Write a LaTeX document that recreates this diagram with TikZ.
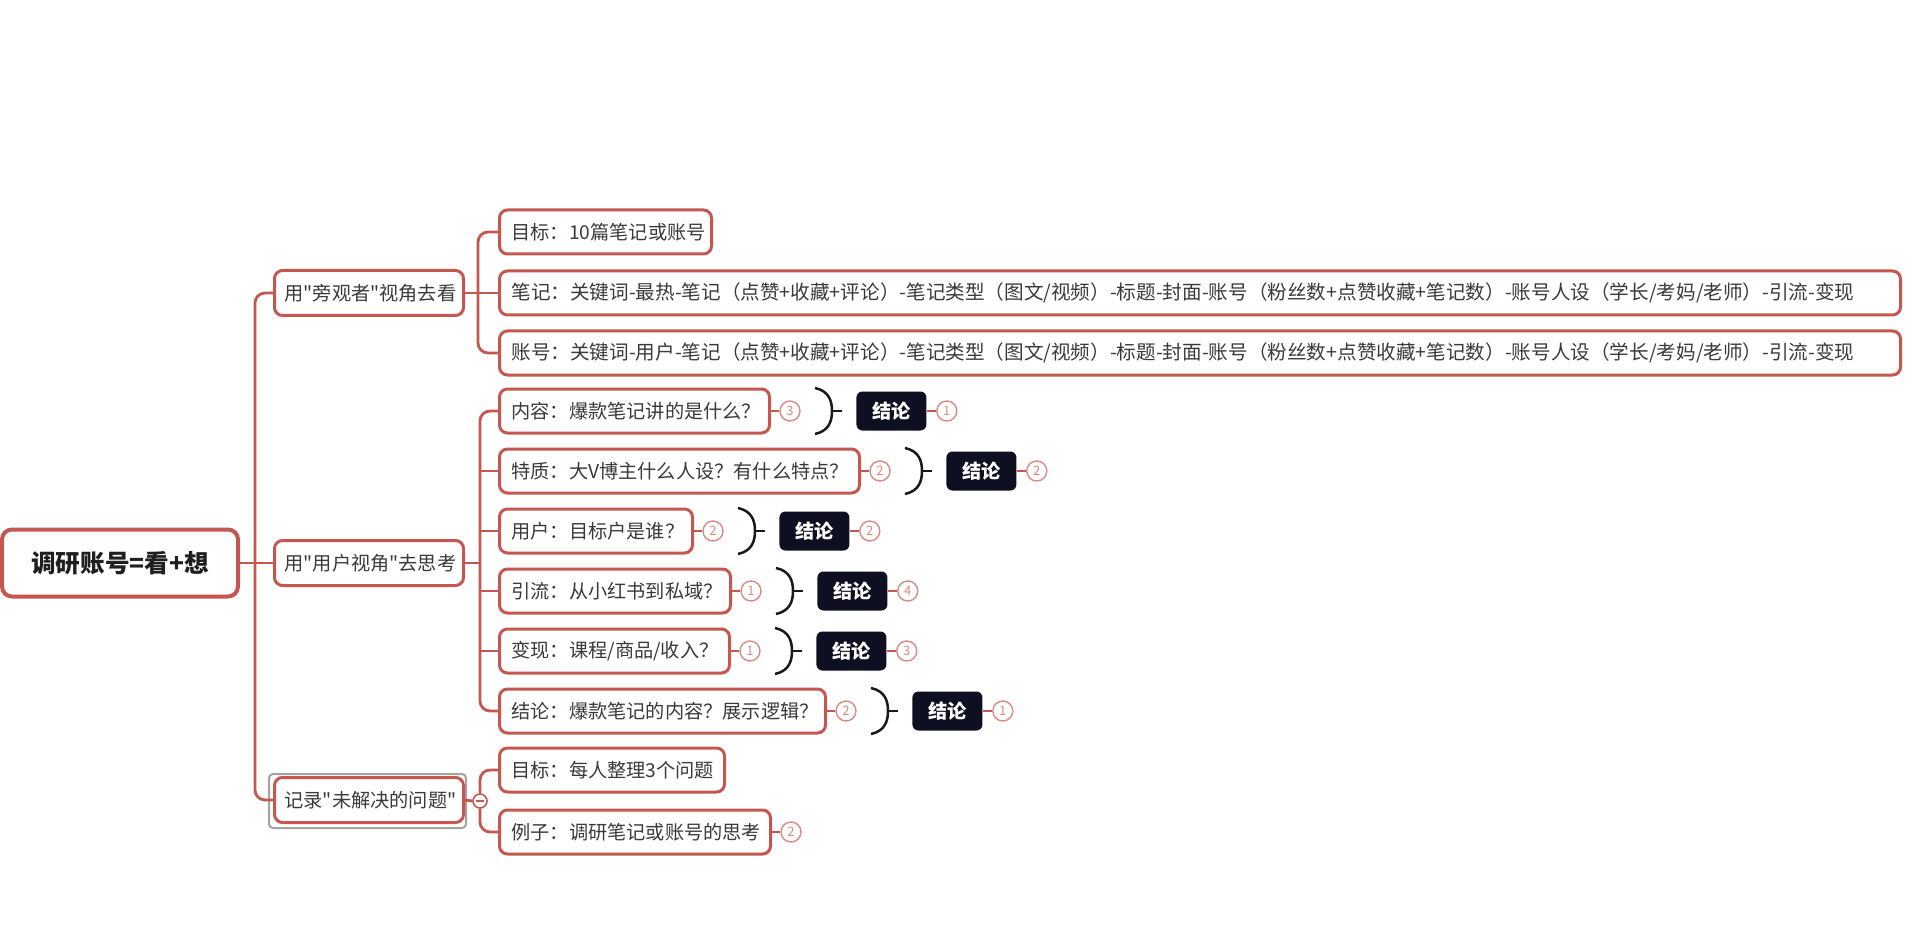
\documentclass[tikz,border=0pt]{standalone}
\usepackage{fontspec}
\setmainfont{Noto Sans CJK SC}[Ligatures=TeXOff]
\usetikzlibrary{calc}
\definecolor{mred}{HTML}{C4574F}
\definecolor{lred}{HTML}{DA8A84}
\definecolor{txt}{HTML}{3A3A3A}
\definecolor{navy}{HTML}{0E1022}
\definecolor{gframe}{HTML}{A3A3A3}
\tikzset{
  link/.style={draw=mred, line width=1.4pt, rounded corners=5pt},
  rootbox/.style={draw=mred, line width=2pt, rounded corners=5pt, fill=white,
    minimum width=118pt, minimum height=33.5pt, text=black!88,
    font=\fontsize{12.3}{14}\selectfont\bfseries},
  lonebox/.style={draw=mred, line width=1.5pt, rounded corners=4pt, fill=white,
    text width=84.5pt, inner xsep=5pt, align=center, minimum height=22.5pt,
    text=txt, font=\fontsize{9.6}{11}\selectfont, anchor=west},
  qbox/.style={draw=mred, line width=1.5pt, rounded corners=4pt, fill=white,
    inner xsep=6pt, align=left, minimum height=22pt, text=txt,
    font=\fontsize{9.6}{11}\selectfont, anchor=west},
  longbox/.style={qbox, font=\fontsize{9.8}{12}\selectfont},
  concl/.style={fill=navy, rounded corners=3pt, minimum width=35pt,
    minimum height=19.5pt, inner sep=0pt, text=white,
    font=\fontsize{9.6}{11}\selectfont\bfseries, anchor=west},
  num/.style={circle, draw=lred, line width=0.7pt, fill=white, minimum size=10pt,
    inner sep=0pt, text=lred, font=\fontsize{6.5}{7}\selectfont},
  bracket/.style={draw=black!90, line width=1.25pt},
  minus/.style={circle, draw=mred, line width=0.8pt, fill=white, minimum size=7pt,
    inner sep=0pt, path picture={\draw[mred, line width=0.6pt]
      ($(path picture bounding box.west)+(1.5pt,0)$) -- ($(path picture bounding box.east)+(-1.5pt,0)$);}},
}
\newcommand{\brk}[1]{%
  \draw[bracket] ($(#1)+(0,-23)$) .. controls ($(#1)+(14,-20)$) and ($(#1)+(17,-10)$) .. ($(#1)+(17,0)$)
    .. controls ($(#1)+(17,10)$) and ($(#1)+(14,20)$) .. ($(#1)+(0,23)$);
  \draw[bracket] ($(#1)+(17,0)$) -- ($(#1)+(27,0)$);}
\begin{document}
\begin{tikzpicture}[x=0.5pt, y=-0.5pt]
\fill[white] (0,0) rectangle (1920,930);
\useasboundingbox (0,0) rectangle (1920,930);

% root and level 1
\node[rootbox] (root) at (120,563) {调研账号=看+想};
\node[lonebox] (B1) at (273,293) {\mbox{用"旁观者"视角去看}};
\node[lonebox] (B2) at (273,563) {\mbox{用"用户视角"去思考}};
\draw[gframe, line width=1pt, rounded corners=2pt] (269,774) rectangle (466,828);
\node[lonebox] (B3) at (273,800) {\mbox{记录"未解决的问题"}};

\coordinate (T) at (255,563);
\draw[link] (B1.west) -| (T) |- (B3.west);
\draw[link] (root.east) -- (B2.west);

% group 1
\node[qbox, text width=94pt] (c11) at (498,232) {\mbox{目标：10篇笔记或账号}};
\node[longbox, text width=688.5pt] (c12) at (498,293) {\mbox{笔记：关键词-最热-笔记（点赞+收藏+评论）-笔记类型（图文/视频）-标题-封面-账号（粉丝数+点赞收藏+笔记数）-账号人设（学长/考妈/老师）-引流-变现}};
\node[longbox, text width=688.5pt] (c13) at (498,353) {\mbox{账号：关键词-用户-笔记（点赞+收藏+评论）-笔记类型（图文/视频）-标题-封面-账号（粉丝数+点赞收藏+笔记数）-账号人设（学长/考妈/老师）-引流-变现}};
\coordinate (G1) at (478,293);
\draw[link] (c11.west) -| (G1) |- (c13.west);
\draw[link] (B1.east) -- (c12.west);

% group 2
\node[qbox, text width=123pt] (r1) at (498,411) {\mbox{内容：爆款笔记讲的是什么？}};
\node[qbox, text width=168pt] (r2) at (498,471) {\mbox{特质：大V博主什么人设？有什么特点？}};
\node[qbox, text width=84.5pt] (r3) at (498,531) {\mbox{用户：目标户是谁？}};
\node[qbox, text width=103.5pt] (r4) at (498,591) {\mbox{引流：从小红书到私域？}};
\node[qbox, text width=103pt] (r5) at (498,651) {\mbox{变现：课程/商品/收入？}};
\node[qbox, text width=151pt] (r6) at (498,711) {\mbox{结论：爆款笔记的内容？展示逻辑？}};
\coordinate (G2) at (480,563);
\draw[link] (r1.west) -| (G2) |- (r6.west);
\draw[link] (B2.east) -- (G2);
\draw[link] (G2 |- r2.west) -- (r2.west);
\draw[link] (G2 |- r3.west) -- (r3.west);
\draw[link] (G2 |- r4.west) -- (r4.west);
\draw[link] (G2 |- r5.west) -- (r5.west);

% row 1
\node[num] (r1n) at ($(r1.east)+(19,0)$) {3};
\draw[link] (r1.east) -- (r1n.west);
\coordinate (r1b) at ($(r1n)+(25,0)$);
\brk{r1b}
\node[concl] (r1c) at ($(r1b)+(41,0)$) {结论};
\node[num] (r1m) at ($(r1c.east)+(20,0)$) {1};
\draw[link] (r1c.east) -- (r1m.west);
% row 2
\node[num] (r2n) at ($(r2.east)+(19,0)$) {2};
\draw[link] (r2.east) -- (r2n.west);
\coordinate (r2b) at ($(r2n)+(25,0)$);
\brk{r2b}
\node[concl] (r2c) at ($(r2b)+(41,0)$) {结论};
\node[num] (r2m) at ($(r2c.east)+(20,0)$) {2};
\draw[link] (r2c.east) -- (r2m.west);
% row 3
\node[num] (r3n) at ($(r3.east)+(19,0)$) {2};
\draw[link] (r3.east) -- (r3n.west);
\coordinate (r3b) at ($(r3n)+(25,0)$);
\brk{r3b}
\node[concl] (r3c) at ($(r3b)+(41,0)$) {结论};
\node[num] (r3m) at ($(r3c.east)+(20,0)$) {2};
\draw[link] (r3c.east) -- (r3m.west);
% row 4
\node[num] (r4n) at ($(r4.east)+(19,0)$) {1};
\draw[link] (r4.east) -- (r4n.west);
\coordinate (r4b) at ($(r4n)+(25,0)$);
\brk{r4b}
\node[concl] (r4c) at ($(r4b)+(41,0)$) {结论};
\node[num] (r4m) at ($(r4c.east)+(20,0)$) {4};
\draw[link] (r4c.east) -- (r4m.west);
% row 5
\node[num] (r5n) at ($(r5.east)+(19,0)$) {1};
\draw[link] (r5.east) -- (r5n.west);
\coordinate (r5b) at ($(r5n)+(25,0)$);
\brk{r5b}
\node[concl] (r5c) at ($(r5b)+(41,0)$) {结论};
\node[num] (r5m) at ($(r5c.east)+(20,0)$) {3};
\draw[link] (r5c.east) -- (r5m.west);
% row 6
\node[num] (r6n) at ($(r6.east)+(19,0)$) {2};
\draw[link] (r6.east) -- (r6n.west);
\coordinate (r6b) at ($(r6n)+(25,0)$);
\brk{r6b}
\node[concl] (r6c) at ($(r6b)+(41,0)$) {结论};
\node[num] (r6m) at ($(r6c.east)+(20,0)$) {1};
\draw[link] (r6c.east) -- (r6m.west);

% group 3
\node[minus] (m) at ($(B3.east)+(15,1)$) {};
\draw[link] (B3.east) -- (m.west);
\node[qbox, text width=100.5pt] (d1) at (498,770) {\mbox{目标：每人整理3个问题}};
\node[qbox, text width=123.5pt] (d2) at (498,832) {\mbox{例子：调研笔记或账号的思考}};
\draw[link] (m.north) |- (d1.west);
\draw[link] (m.south) |- (d2.west);
\node[num] (d2n) at ($(d2.east)+(19,0)$) {2};
\draw[link] (d2.east) -- (d2n.west);
\end{tikzpicture}
\end{document}
